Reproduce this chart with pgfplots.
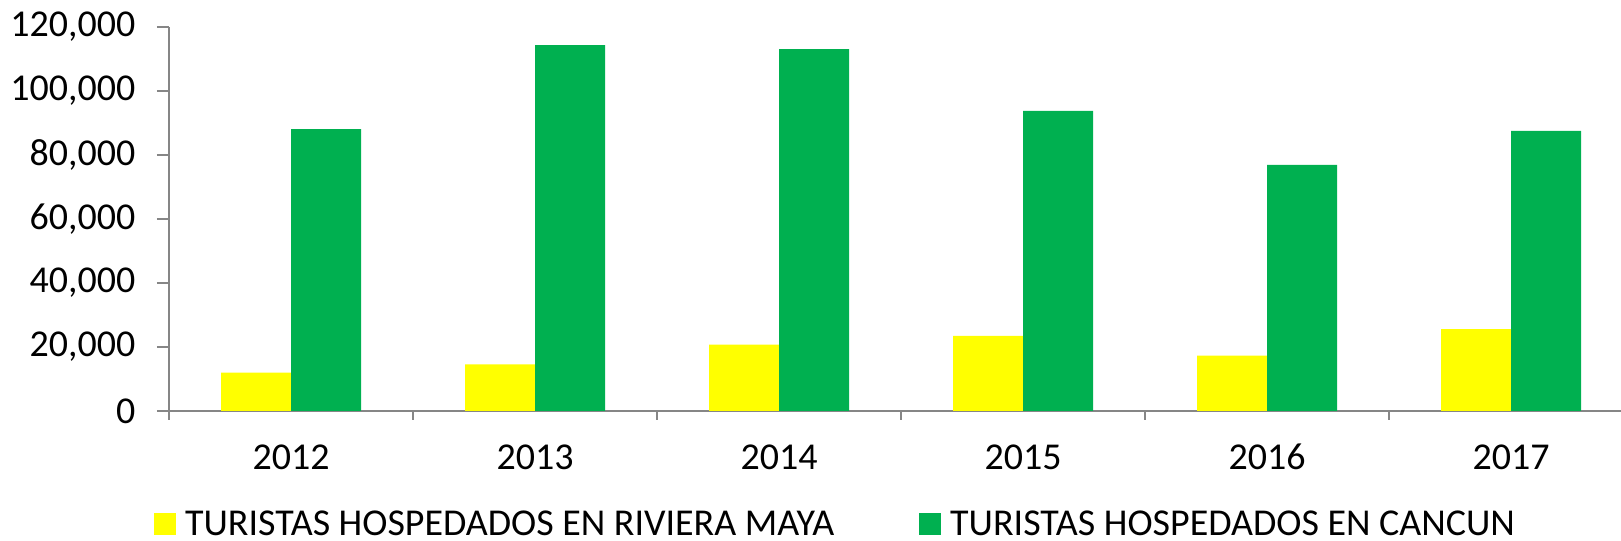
\documentclass[border=0pt]{standalone}
\usepackage{fontspec}
\setmainfont{Carlito}
\usepackage{pgfplots}
\pgfplotsset{compat=1.18}
\definecolor{rmyellow}{RGB}{255,255,0}
\definecolor{cungreen}{RGB}{0,176,80}
\definecolor{axgray}{RGB}{134,134,134}

\begin{document}
\begin{tikzpicture}
% page size: 1621 x 541 px, 1 px = 0.1 mm, axis origin at (169,411) px
\useasboundingbox (-16.9mm,-13.0mm) rectangle (145.2mm,41.1mm);
\begin{axis}[
    at={(0,0)}, anchor=south west,
    scale only axis,
    width=145.2mm, height=38.4mm,
    xmin=-0.5, xmax=5.45,
    ymin=0, ymax=120000,
    axis x line*=bottom, axis y line*=left,
    axis line style={-, draw=axgray, line width=0.6pt},
    font=\fontsize{10.8}{13}\selectfont,
    ybar=0pt, bar width=7mm,
    xtick={0,...,5},
    xticklabels={2012,2013,2014,2015,2016,2017},
    major x tick style={draw=none},
    minor xtick={-0.5,0.5,...,4.5},
    minor tick length=0.9mm,
    ytick={0,20000,40000,60000,80000,100000,120000},
    yticklabels={0,{20,000},{40,000},{60,000},{80,000},{100,000},{120,000}},
    scaled y ticks=false,
    major tick length=1.2mm,
    tick align=outside,
    tick style={draw=axgray, line width=0.6pt},
    yticklabel style={anchor=east, inner sep=0pt, xshift=-2.1mm},
    xticklabel style={anchor=base, inner sep=0pt, yshift=-4.65mm},
    legend columns=2,
    legend cell align=left,
    legend image code/.code={\fill[#1] (0mm,-1.1mm) rectangle (2.2mm,1.1mm);},
    legend style={draw=none, fill=none, inner sep=0pt, outer sep=0pt,
        at={(-0.0103,-0.3255)}, anchor=south west,
        nodes={inner sep=0pt, text depth=0pt},
        /tikz/every odd column/.append style={column sep=0.9mm},
        /tikz/every even column/.append style={column sep=8.5mm}},
]
\addplot[fill=rmyellow, draw=none] coordinates {
    (0,12000) (1,14600) (2,20700) (3,23500) (4,17300) (5,25600)
};
\addplot[fill=cungreen, draw=none] coordinates {
    (0,88100) (1,114300) (2,113100) (3,93750) (4,76900) (5,87500)
};
\legend{TURISTAS HOSPEDADOS EN RIVIERA MAYA, TURISTAS HOSPEDADOS EN CANCUN}
\end{axis}
\end{tikzpicture}
\end{document}
